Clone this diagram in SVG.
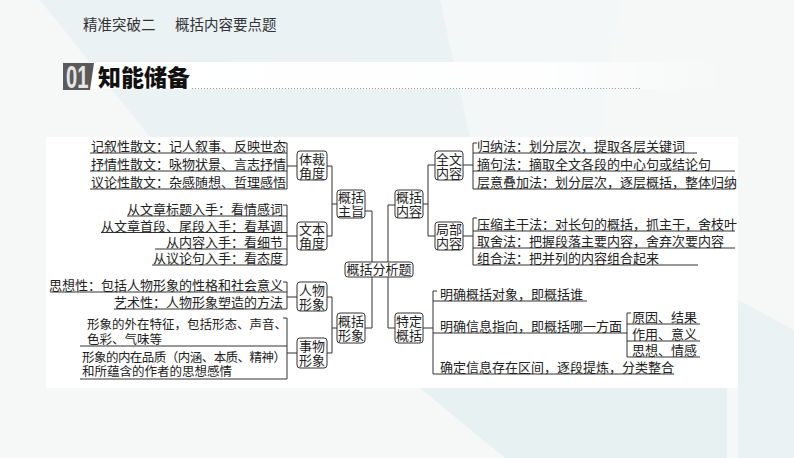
<svg xmlns="http://www.w3.org/2000/svg" width="794" height="458" viewBox="0 0 794 458">
<defs>
<style>
.t{font-family:"Liberation Sans","Noto Sans CJK SC",sans-serif;font-size:13px;fill:#222;dominant-baseline:central}
.e{text-anchor:end}
.m{text-anchor:middle}
.b{fill:#fff;stroke:#333;stroke-width:1}
.ln{fill:none;stroke:#333;stroke-width:1}
</style>
<linearGradient id="band" x1="0" y1="0" x2="1" y2="0">
<stop offset="0" stop-color="#fff" stop-opacity="1"/>
<stop offset="0.7" stop-color="#fff" stop-opacity="0.9"/>
<stop offset="1" stop-color="#fff" stop-opacity="0"/>
</linearGradient>
</defs>
<rect x="0" y="0" width="794" height="458" fill="#f6f7f7"/>
<polygon points="40,0 520,0 560,137 150,137" fill="#ebf2f4"/>
<polygon points="440,0 620,0 600,137 470,137" fill="#f3f7f8"/>
<polygon points="420,388 727,388 727,458 505,458" fill="#e7f1f2"/>
<polygon points="738,300 794,330 794,458 738,458" fill="#eaf2f3"/>
<text x="83" y="25" class="t" style="font-size:14.5px;fill:#333">精准突破二</text>
<text x="175" y="25" class="t" style="font-size:14.5px;fill:#333">概括内容要点题</text>
<rect x="90" y="62" width="640" height="27" fill="url(#band)"/>
<polygon points="63,63 94,63 90,90 63,90" fill="#5a5a5a"/>
<text transform="translate(66,88) scale(0.65,1)" style="font-family:'Liberation Sans',sans-serif;font-weight:bold;font-size:31px;fill:#e6e6e6">01</text>
<text x="98" y="76" class="t" style="font-family:'Noto Sans CJK SC',sans-serif;font-size:23px;font-weight:900;fill:#111">知能储备</text>
<line x1="192" y1="88.5" x2="640" y2="88.5" stroke="#999" stroke-width="1" stroke-dasharray="1,2"/>
<rect x="46" y="137" width="692" height="251" fill="#fff"/>
<g id="connectors" class="ln">
<path d="M327,166H332V236H327M332,204H337"/>
<path d="M365,211H372V262M395,205H388V262"/>
<path d="M423,204H428M435,165H428V236H435"/>
<path d="M372,277V328H365M388,277V328H395"/>
<path d="M327,297H332V353H327M332,328H337"/>
<path d="M283,143H287V189M90,153H287M90,171H287M90,189H287M287,166H297"/>
<path d="M283,205H287V265M127,216H287M101,232.5H287M155,249H287M152,265H287M287,236H297"/>
<path d="M283,282H287V309M50,292H287M114,309H287M287,297H297"/>
<path d="M283,318H287V379M80,346H287M80,379H287M287,353H297"/>
<path d="M477,143H473V189M473,153H697M473,171H735M473,189H735M463,165H473"/>
<path d="M477,218H473V265M473,231H735M473,248H735M473,265H698M463,236H473"/>
<path d="M437,291H433V374M433,301H587M433,333H627M433,374H674M423,328H433"/>
<path d="M631,313H627V357M627,324H700M627,341H700M627,357H700"/>
</g>
<g id="n-root"><rect class="b" x="345" y="262" width="68" height="15" rx="3"/><text class="t m" x="379" y="269.5">概括分析题</text></g>
<g id="n-zhuzhi"><rect class="b" x="337" y="190" width="28" height="28" rx="3"/><text class="t m" x="351" y="197.5">概括<tspan x="351" dy="13.5">主旨</tspan></text></g>
<g id="n-neirong"><rect class="b" x="395" y="190" width="28" height="28" rx="3"/><text class="t m" x="409" y="197.5">概括<tspan x="409" dy="13.5">内容</tspan></text></g>
<g id="n-xingxiang"><rect class="b" x="337" y="313" width="28" height="30" rx="3"/><text class="t m" x="351" y="321.5">概括<tspan x="351" dy="13.5">形象</tspan></text></g>
<g id="n-teding"><rect class="b" x="395" y="313" width="28" height="30" rx="3"/><text class="t m" x="409" y="321.5">特定<tspan x="409" dy="13.5">概括</tspan></text></g>
<g id="n-ticai"><rect class="b" x="297" y="151" width="30" height="29" rx="3"/><text class="t m" x="312" y="159">体裁<tspan x="312" dy="13.5">角度</tspan></text></g>
<g id="n-wenben"><rect class="b" x="297" y="222" width="30" height="28" rx="3"/><text class="t m" x="312" y="229.5">文本<tspan x="312" dy="13.5">角度</tspan></text></g>
<g id="n-renwu"><rect class="b" x="297" y="282" width="30" height="29" rx="3"/><text class="t m" x="312" y="290">人物<tspan x="312" dy="13.5">形象</tspan></text></g>
<g id="n-shiwu"><rect class="b" x="297" y="338" width="30" height="30" rx="3"/><text class="t m" x="312" y="346.5">事物<tspan x="312" dy="13.5">形象</tspan></text></g>
<g id="n-quanwen"><rect class="b" x="435" y="151" width="28" height="29" rx="3"/><text class="t m" x="449" y="159">全文<tspan x="449" dy="13.5">内容</tspan></text></g>
<g id="n-jubu"><rect class="b" x="435" y="222" width="28" height="28" rx="3"/><text class="t m" x="449" y="229.5">局部<tspan x="449" dy="13.5">内容</tspan></text></g>
<g id="leaves-ticai">
<text class="t" x="91" y="146">记叙性散文：记人叙事、反映世态</text>
<text class="t" x="91" y="164">抒情性散文：咏物状景、言志抒情</text>
<text class="t" x="91" y="182">议论性散文：杂感随想、哲理感悟</text>
</g>
<g id="leaves-wenben">
<text class="t e" x="283" y="209.5">从文章标题入手：看情感词</text>
<text class="t e" x="283" y="226">从文章首段、尾段入手：看基调</text>
<text class="t e" x="283" y="242.5">从内容入手：看细节</text>
<text class="t e" x="283" y="258.5">从议论句入手：看态度</text>
</g>
<g id="leaves-renwu">
<text class="t e" x="283" y="285.5">思想性：包括人物形象的性格和社会意义</text>
<text class="t e" x="283" y="302.5">艺术性：人物形象塑造的方法</text>
</g>
<g id="leaves-shiwu">
<text class="t" x="87" y="325" style="font-size:12.5px">形象的外在特征，包括形态、声音、<tspan x="87" dy="14.5">色彩、气味等</tspan></text>
<text class="t" x="82" y="357.5" style="font-size:12.5px"><tspan textLength="204" lengthAdjust="spacing">形象的内在品质（内涵、本质、精神）</tspan><tspan x="82" dy="14.5">和所蕴含的作者的思想感情</tspan></text>
</g>
<g id="leaves-quanwen">
<text class="t" x="477" y="146">归纳法：划分层次，提取各层关键词</text>
<text class="t" x="477" y="164">摘句法：摘取全文各段的中心句或结论句</text>
<text class="t" x="477" y="182">层意叠加法：划分层次，逐层概括，整体归纳</text>
</g>
<g id="leaves-jubu">
<text class="t" x="477" y="224">压缩主干法：对长句的概括，抓主干，舍枝叶</text>
<text class="t" x="477" y="241">取舍法：把握段落主要内容，舍弃次要内容</text>
<text class="t" x="477" y="258">组合法：把并列的内容组合起来</text>
</g>
<g id="leaves-teding">
<text class="t" x="440" y="294.5">明确概括对象，即概括谁</text>
<text class="t" x="440" y="326.5">明确信息指向，即概括哪一方面</text>
<text class="t" x="440" y="367.5">确定信息存在区间，逐段提炼，分类整合</text>
</g>
<g id="leaves-fangmian">
<text class="t" x="632" y="317.5">原因、结果</text>
<text class="t" x="632" y="334.5">作用、意义</text>
<text class="t" x="632" y="350.5">思想、情感</text>
</g>
</svg>
